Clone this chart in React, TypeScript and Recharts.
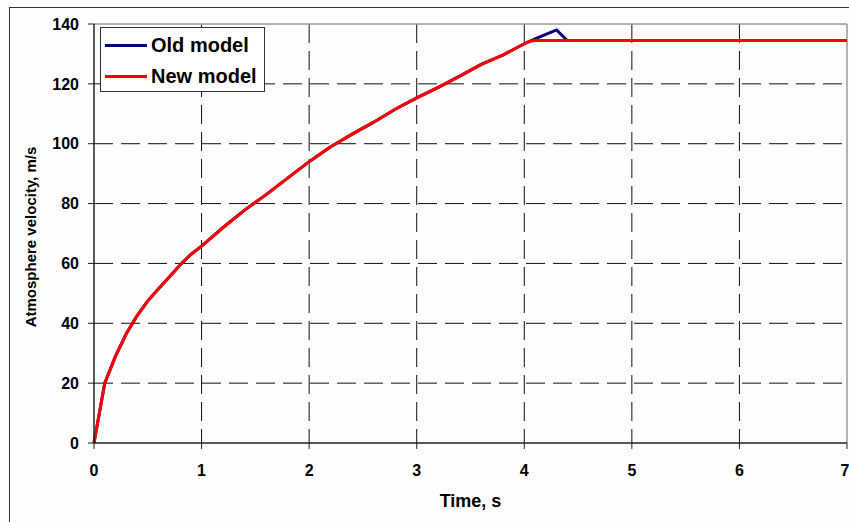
import { LineChart, Line, XAxis, YAxis, CartesianGrid, ReferenceLine, Label } from "recharts";

// time samples, s
const TIME = [
  0, 0.05, 0.1, 0.2, 0.3, 0.4, 0.5, 0.6, 0.7, 0.8, 0.9, 1.0, 1.2, 1.4, 1.6, 1.8, 2.0,
  2.2, 2.4, 2.6, 2.8, 3.0, 3.2, 3.4, 3.6, 3.8, 4.0, 4.05, 4.1, 4.2, 4.3, 4.4, 7.0,
];

// atmosphere velocity, m/s
const OLD_MODEL = [
  0, 10, 20, 29, 36.5, 42.5, 47.5, 51.5, 55.5, 59.5, 63, 65.8, 72, 77.8, 83, 88.5, 94,
  99, 103.2, 107.2, 111.5, 115.3, 118.8, 122.6, 126.5, 129.6, 133.4, 134.2, 135, 136.5, 138, 134.5, 134.5,
];
const NEW_MODEL = [
  0, 10, 20, 29, 36.5, 42.5, 47.5, 51.5, 55.5, 59.5, 63, 65.8, 72, 77.8, 83, 88.5, 94,
  99, 103.2, 107.2, 111.5, 115.3, 118.8, 122.6, 126.5, 129.6, 133.4, 134.2, 134.5, 134.5, 134.5, 134.5, 134.5,
];

const X_TICKS = [0, 1, 2, 3, 4, 5, 6, 7];
const Y_TICKS = [0, 20, 40, 60, 80, 100, 120, 140];

const SERIES = [
  { key: "old", name: "Old model", color: "#000080" },
  { key: "new", name: "New model", color: "#ff0000" },
];

const data = TIME.map((t, i) => ({ t, old: OLD_MODEL[i], new: NEW_MODEL[i] }));

const FONT = '"Liberation Sans", Arial, sans-serif';
const tickStyle = { fontSize: 16, fontWeight: 700, fill: "#000", fontFamily: FONT };

// legend drawn as an overlay box in the top-left of the plot
function LegendBox() {
  return (
    <div
      style={{
        position: "absolute",
        left: 100,
        top: 27,
        width: 165,
        height: 65,
        background: "#fff",
        border: "1px solid #333",
        boxSizing: "border-box",
        fontFamily: FONT,
        fontWeight: 700,
        fontSize: 20,
        paddingTop: 2,
      }}
    >
      {SERIES.map((s) => (
        <div key={s.key} style={{ display: "flex", alignItems: "center", height: 31 }}>
          <span style={{ display: "inline-block", width: 42, height: 3, background: s.color, marginLeft: 4, marginRight: 4 }} />
          <span>{s.name}</span>
        </div>
      ))}
    </div>
  );
}

// vertical axis title, rotated beside the tick labels
function YTitle() {
  const cx = 30;
  const cy = 237;
  return (
    <text
      x={cx}
      y={cy}
      transform={`rotate(-90 ${cx} ${cy})`}
      textAnchor="middle"
      dominantBaseline="central"
      style={{ ...tickStyle, fontSize: 15 }}
    >
      Atmosphere velocity, m/s
    </text>
  );
}

export default function App() {
  return (
    <div style={{ position: "absolute", left: 0, top: 0, width: 849, height: 522, overflow: "hidden", background: "#fdfdfd" }}>
      <div
        style={{
          position: "absolute",
          left: 9,
          top: 7,
          width: 900,
          height: 600,
          border: "1px solid #333",
        }}
      />
      <LineChart
        width={849}
        height={522}
        data={data}
        margin={{ top: 24, right: 2, bottom: 19, left: 0 }}
        style={{ position: "absolute", left: 0, top: 0 }}
      >
        <CartesianGrid
          stroke="#111"
          strokeDasharray="19 8"
          horizontalValues={[20, 40, 60, 80, 100, 120]}
          verticalValues={[1, 2, 3, 4, 5, 6]}
        />
        <ReferenceLine y={140} stroke="#999" strokeWidth={1.5} />
        <ReferenceLine x={7} stroke="#999" strokeWidth={1.5} />
        <XAxis
          dataKey="t"
          type="number"
          domain={[0, 7]}
          ticks={X_TICKS}
          height={60}
          tick={tickStyle}
          tickSize={6}
          tickMargin={16}
          stroke="#222"
          axisLine={{ stroke: "#222", strokeWidth: 1.5 }}
        >
          <Label value="Time, s" position="insideBottom" offset={-4} style={{ ...tickStyle, fontSize: 18 }} />
        </XAxis>
        <YAxis
          type="number"
          domain={[0, 140]}
          ticks={Y_TICKS}
          width={94}
          tick={tickStyle}
          tickSize={6}
          tickMargin={9}
          stroke="#222"
          axisLine={{ stroke: "#222", strokeWidth: 1.5 }}
        >
          <Label content={YTitle} />
        </YAxis>
        {SERIES.map((s) => (
          <Line
            key={s.key}
            dataKey={s.key}
            name={s.name}
            stroke={s.color}
            strokeWidth={3}
            dot={false}
            type="linear"
            isAnimationActive={false}
          />
        ))}
      </LineChart>
      <LegendBox />
    </div>
  );
}
